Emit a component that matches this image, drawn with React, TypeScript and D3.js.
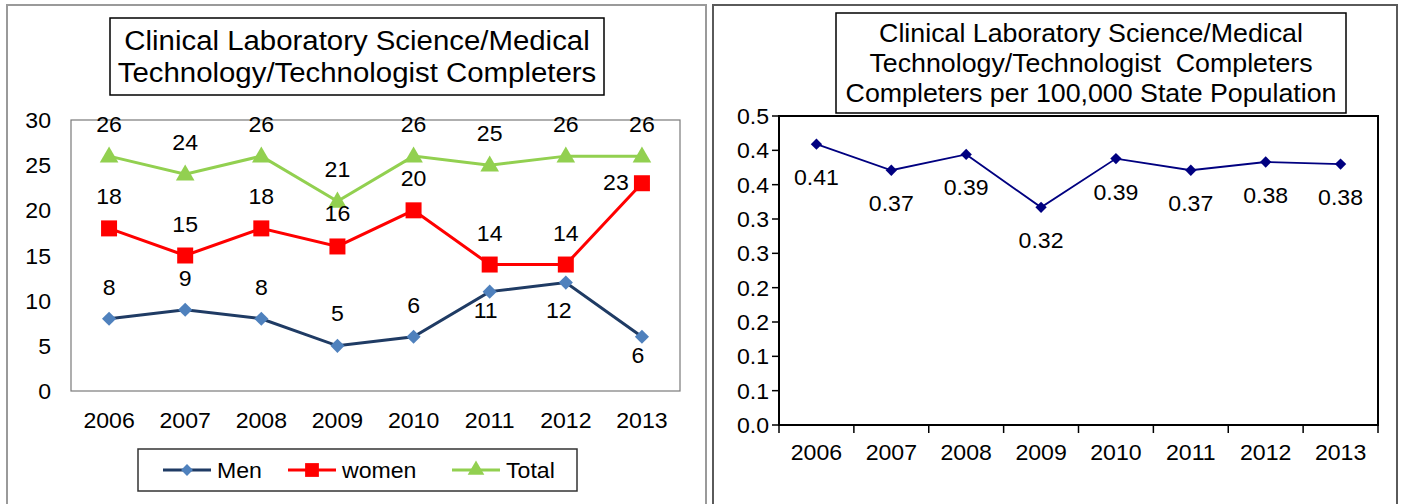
import React, { useEffect, useRef } from 'react';
import * as d3 from 'd3';

// chart data
const years = ['2006', '2007', '2008', '2009', '2010', '2011', '2012', '2013'];
const men = [8, 9, 8, 5, 6, 11, 12, 6];
const women = [18, 15, 18, 16, 20, 14, 14, 23];
const total = [26, 24, 26, 21, 26, 25, 26, 26];
const countTicks = [0, 5, 10, 15, 20, 25, 30];

const perCapita = [0.409, 0.371, 0.394, 0.317, 0.388, 0.371, 0.383, 0.380];
const rateTicks = [0, 0.05, 0.1, 0.15, 0.2, 0.25, 0.3, 0.35, 0.4, 0.45];
const rateTickLabels = ['0.0', '0.1', '0.1', '0.2', '0.2', '0.3', '0.3', '0.4', '0.4', '0.5'];

const leftTitle = ['Clinical Laboratory Science/Medical', 'Technology/Technologist Completers'];
const rightTitle = [
    'Clinical Laboratory Science/Medical',
    'Technology/Technologist  Completers',
    'Completers per 100,000 State Population'
];
const legendNames = ['Men', 'women', 'Total'];

const FONT = '"Liberation Sans", Arial, sans-serif';

export default function App() {
    const svgRef = useRef(null);

    let svgWidth = 1401,
        svgHeight = 504;

    // text is slightly wide in the original, so stretch it a bit
    function addText(g, x, y, str, size, anchor = 'middle') {
        g.append('text')
            .attr('transform', `translate(${x},${y}) scale(1.05,1)`)
            .attr('font-family', FONT)
            .attr('font-size', size)
            .attr('text-anchor', anchor)
            .attr('fill', '#000')
            .style('white-space', 'pre')
            .text(str);
    }

    const diamond = (s) => d3.symbol(d3.symbolSquare).size(s)();
    const square = (s) => d3.symbol(d3.symbolSquare).size(s)();
    const triangle = (s) => d3.symbol(d3.symbolTriangle).size(s)();

    function drawLeft(svg) {
        let g = svg.append('g');

        // panel border
        g.append('rect').attr('x', 7).attr('y', 5).attr('width', 699).attr('height', 520)
            .attr('fill', '#fff').attr('stroke', '#9a9a9a').attr('stroke-width', 2);

        // title box
        g.append('rect').attr('x', 110).attr('y', 18).attr('width', 494).attr('height', 77)
            .attr('fill', '#fff').attr('stroke', '#000').attr('stroke-width', 1.5);
        leftTitle.forEach((t, i) => addText(g, 357, 50 + i * 32, t, 28));

        let x = d3.scaleBand().domain(years).range([71, 680]);
        let y = d3.scaleLinear().domain([0, 30]).range([391, 120]);

        // plot frame
        g.append('rect').attr('x', 71).attr('y', 120).attr('width', 609).attr('height', 271)
            .attr('fill', 'none').attr('stroke', '#7a7a7a').attr('stroke-width', 1.2);

        countTicks.forEach(t => addText(g, 51, y(t) + 8, String(t), 22, 'end'));
        years.forEach(yr => addText(g, x(yr) + x.bandwidth() / 2, 428, yr, 22));

        let cx = (i) => x(years[i]) + x.bandwidth() / 2;

        let series = [
            {values: total, line: '#92D050', fill: '#92D050', shape: triangle, size: 150, rot: 0,
                labelDx: [0, 0, 0, 0, 0, 0, 0, 0], labelDy: [-32, -32, -32, -32, -32, -32, -32, -32]},
            {values: women, line: '#FF0000', fill: '#FF0000', shape: square, size: 256, rot: 0,
                labelDx: [0, 0, 0, 0, 0, 0, 0, -26], labelDy: [-32, -32, -32, -33, -32, -32, -32, -1]},
            {values: men, line: '#1F3B64', fill: '#4F81BD', shape: diamond, size: 100, rot: 45,
                labelDx: [0, 0, 0, 0, 0, -4, -7, -4], labelDy: [-32, -32, -32, -33, -32, 18, 27, 18]}
        ];

        let line = d3.line().x((d, i) => cx(i)).y(d => y(d));

        series.forEach(s => {
            g.append('path').datum(s.values).attr('d', line)
                .attr('fill', 'none').attr('stroke', s.line).attr('stroke-width', 3);
            g.append('g').selectAll('path').data(s.values).enter().append('path')
                .attr('d', s.shape(s.size))
                .attr('transform', (d, i) => `translate(${cx(i)},${y(d) + (s.shape === triangle ? 1 : 0)}) rotate(${s.rot})`)
                .attr('fill', s.fill);
        });

        series.forEach(s => {
            s.values.forEach((v, i) => addText(g, cx(i) + s.labelDx[i], y(v) + s.labelDy[i] + 8, String(v), 22));
        });

        // legend
        g.append('rect').attr('x', 138).attr('y', 449).attr('width', 439).attr('height', 42)
            .attr('fill', '#fff').attr('stroke', '#333').attr('stroke-width', 1.5);
        let legend = [
            {x0: 163, line: '#1F3B64', fill: '#4F81BD', shape: diamond, size: 70, rot: 45},
            {x0: 288, line: '#FF0000', fill: '#FF0000', shape: square, size: 190, rot: 0},
            {x0: 452, line: '#92D050', fill: '#92D050', shape: triangle, size: 120, rot: 0}
        ];
        legend.forEach((l, i) => {
            g.append('line').attr('x1', l.x0).attr('x2', l.x0 + 48).attr('y1', 470).attr('y2', 470)
                .attr('stroke', l.line).attr('stroke-width', 3);
            g.append('path').attr('d', l.shape(l.size))
                .attr('transform', `translate(${l.x0 + 24},470) rotate(${l.rot})`).attr('fill', l.fill);
            addText(g, l.x0 + 54, 478, legendNames[i], 22, 'start');
        });
    }

    function drawRight(svg) {
        let g = svg.append('g');

        g.append('rect').attr('x', 713).attr('y', 5).attr('width', 684).attr('height', 520)
            .attr('fill', '#fff').attr('stroke', '#5a5a5a').attr('stroke-width', 2);

        let x = d3.scaleBand().domain(years).range([779, 1378]);
        let y = d3.scaleLinear().domain([0, 0.45]).range([425, 116]);

        // title box
        g.append('rect').attr('x', 836).attr('y', 13).attr('width', 510).attr('height', 100)
            .attr('fill', '#fff').attr('stroke', '#000').attr('stroke-width', 1.5);
        rightTitle.forEach((t, i) => addText(g, 1091, 42 + i * 30, t, 25.5));

        // plot frame
        g.append('rect').attr('x', 779).attr('y', 116).attr('width', 599).attr('height', 309)
            .attr('fill', 'none').attr('stroke', '#000').attr('stroke-width', 2);

        // y ticks
        rateTicks.forEach((t, i) => {
            g.append('line').attr('x1', 772).attr('x2', 779).attr('y1', y(t)).attr('y2', y(t))
                .attr('stroke', '#000').attr('stroke-width', 1.5);
            addText(g, 769, y(t) + 8, rateTickLabels[i], 22, 'end');
        });

        // x ticks at category boundaries
        years.concat(['end']).forEach((yr, i) => {
            let xp = 779 + i * x.bandwidth();
            g.append('line').attr('x1', xp).attr('x2', xp).attr('y1', 425).attr('y2', 433)
                .attr('stroke', '#000').attr('stroke-width', 1.5);
        });
        years.forEach(yr => addText(g, x(yr) + x.bandwidth() / 2, 460, yr, 22));

        let cx = (i) => x(years[i]) + x.bandwidth() / 2;
        let line = d3.line().x((d, i) => cx(i)).y(d => y(d));

        g.append('path').datum(perCapita).attr('d', line)
            .attr('fill', 'none').attr('stroke', '#000080').attr('stroke-width', 1.8);
        g.append('g').selectAll('path').data(perCapita).enter().append('path')
            .attr('d', diamond(64))
            .attr('transform', (d, i) => `translate(${cx(i)},${y(d)}) rotate(45)`)
            .attr('fill', '#000080');

        perCapita.forEach((v, i) => addText(g, cx(i), y(v) + 33 + 8, d3.format('.2f')(v), 22));
    }

    useEffect(() => {
        let svg = d3.select(svgRef.current);
        svg.selectAll('*').remove();
        svg.append('rect').attr('width', svgWidth).attr('height', svgHeight).attr('fill', '#fff');
        drawLeft(svg);
        drawRight(svg);
    });

    return (
        <div>
            <svg ref={svgRef} width={svgWidth} height={svgHeight}
                 style={{position: 'absolute', left: 0, top: 0, display: 'block'}}/>
        </div>
    );
}
